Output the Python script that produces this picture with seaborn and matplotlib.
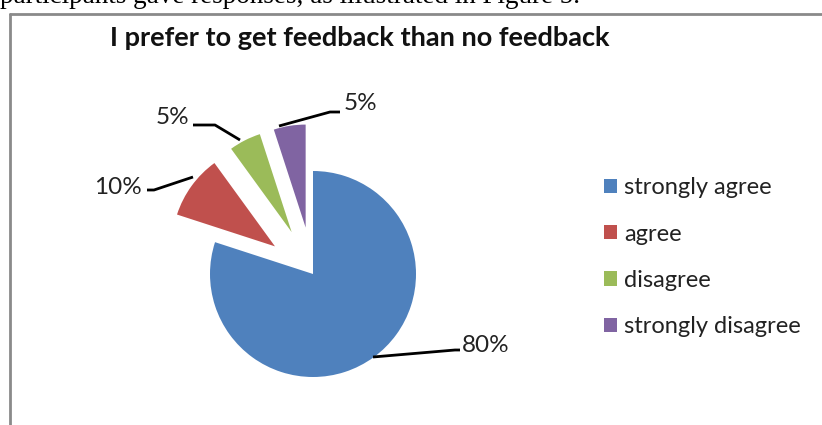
import matplotlib
matplotlib.use("Agg")
import matplotlib.pyplot as plt
import seaborn as sns
from matplotlib.lines import Line2D

sns.set_theme(style="white")
plt.rcParams['font.family'] = ['Lato', 'DejaVu Sans']

# data
categories = ["strongly agree", "agree", "disagree", "strongly disagree"]
percent = [80, 10, 5, 5]
explode = [0, 0.47, 0.47, 0.47]
colors = ["#4F81BD", "#C0504D", "#9BBB59", "#8064A2"]
title = "I prefer to get feedback than no feedback"
caption = "participants gave responses, as illustrated in Figure 5."

W, H = 822, 425
CX, CY = 313, 274  # pie centre in pixels (from top-left)
fig = plt.figure(figsize=(W / 100, H / 100), dpi=100)
ax = fig.add_axes([0, 0, 1, 1])

wedges, _ = ax.pie(percent, colors=colors, explode=explode, startangle=90,
                   counterclock=False, radius=1.03,
                   wedgeprops={'linewidth': 0})

# 1 data unit = 100 px, origin at the pie centre
ax.set_xlim(-CX / 100, (W - CX) / 100)
ax.set_ylim(-(H - CY) / 100, CY / 100)
ax.set_aspect('auto')
ax.axis('off')


def px(x, y):
    return (x - CX) / 100, (CY - y) / 100


# leader lines and labels (pixel positions)
leaders = [
    ([(373, 357), (455, 350), (460, 350)], (486, 346)),
    ([(193, 177), (154, 190), (147, 190)], (118, 187)),
    ([(240, 140), (215, 125), (193, 125)], (172, 118)),
    ([(279, 126), (330, 112), (340, 112)], (360, 104)),
]
for (pts, lab), p in zip(leaders, percent):
    xy = [px(*q) for q in pts]
    ax.add_line(Line2D([a for a, b in xy], [b for a, b in xy],
                       color='black', lw=2, solid_capstyle='butt'))
    lx, ly = px(*lab)
    ax.text(lx, ly, f"{p}%", ha='center', va='center', fontsize=17.5,
            color='#222222')

# title
fig.text(360 / W, 1 - 38 / H, title, ha='center', va='center',
         fontsize=19.5, fontweight='bold', color='#111111')

# legend
leg = fig.legend(wedges, categories, loc='upper left',
                 bbox_to_anchor=(583 / W, 1 - 156 / H), frameon=False,
                 fontsize=17, handlelength=0.55, handleheight=0.55,
                 handletextpad=0.3, labelspacing=1.07)
for t in leg.get_texts():
    t.set_color('#222222')

# chart border (only left and top are visible in the crop)
fig.add_artist(Line2D([10 / W, 10 / W], [0, 1 - 14 / H], color='#8a8a8a',
                      lw=2, transform=fig.transFigure))
fig.add_artist(Line2D([10 / W, 1], [1 - 14 / H, 1 - 14 / H], color='#8a8a8a',
                      lw=2, transform=fig.transFigure))

# clipped line of body text above the chart
fig.text(0 / W, 1 - 3 / H, caption, ha='left', va='baseline', fontsize=19.5,
         family=['Liberation Serif', 'DejaVu Serif'], color='black')

fig.savefig("out.png", dpi=100, facecolor='white')
